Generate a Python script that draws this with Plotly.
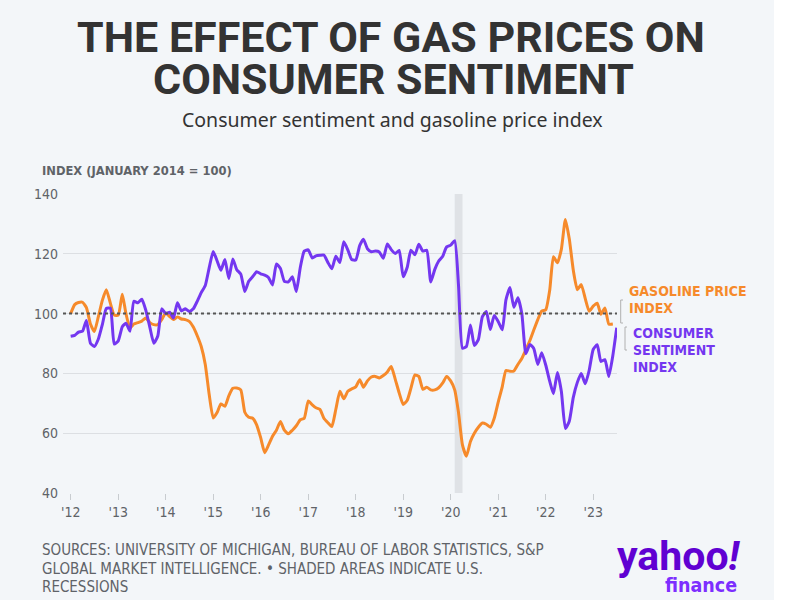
import plotly.graph_objects as go
import pandas as pd

# ---------------- data ----------------
sentiment_start = "2012-01-01"
sentiment = [
    92.4, 92.7, 93.8, 94.1, 97.7, 90.1, 89.0, 91.5, 96.4, 101.7, 101.8, 89.8,
    90.9, 95.6, 96.8, 94.1, 104.1, 103.6, 104.8, 101.1, 95.4, 90.1, 92.5, 101.6,
    100.0, 100.5, 98.5, 103.6, 100.9, 101.6, 100.7, 101.6, 104.2, 107.0, 109.4, 115.3,
    120.8, 117.5, 114.5, 118.1, 111.7, 118.3, 114.7, 113.2, 107.4, 110.8, 112.4, 114.0,
    113.3, 112.9, 112.1, 109.6, 116.6, 115.1, 110.8, 110.6, 112.3, 107.4, 115.5, 120.9,
    121.3, 118.6, 119.3, 119.5, 119.6, 117.1, 115.0, 119.2, 117.1, 124.0, 121.3, 118.1,
    117.9, 122.8, 124.9, 121.7, 120.7, 120.9, 120.6, 118.5, 123.3, 121.4, 120.1, 121.1,
    112.3, 115.5, 121.2, 119.7, 123.2, 120.9, 121.2, 110.6, 114.8, 117.6, 119.2, 122.3,
    122.9, 124.4, 109.7, 88.4, 89.0, 96.2, 89.3, 91.3, 99.0, 100.7, 94.7, 99.4,
    97.3, 94.6, 104.6, 108.7, 102.1, 105.3, 100.0, 86.6, 89.7, 88.3, 83.0, 86.9,
    82.8, 77.3, 73.2, 80.3, 74.0, 61.6, 64.0, 72.0, 77.0, 80.0, 76.5, 81.0,
    88.0, 89.6, 84.0, 84.6, 79.0, 86.0, 95.3,
]
gas_start = "2012-01-01"
gasoline = [
    100.0, 103.0, 103.7, 103.8, 102.0, 96.5, 94.0, 99.0, 104.5, 108.0, 103.5, 99.5,
    99.5, 106.5, 100.0, 95.2, 96.5, 97.0, 97.5, 98.5, 97.0, 96.3, 96.3, 98.0,
    100.2, 99.0, 98.0, 98.9, 98.2, 98.0, 97.4, 95.5, 92.5, 89.0, 83.0, 73.0,
    65.1, 67.0, 69.8, 69.0, 72.5, 75.0, 75.1, 74.5, 67.0, 65.3, 65.0, 62.8,
    58.5, 53.5, 56.0, 59.0, 61.0, 63.9, 61.0, 59.8, 61.0, 62.5, 64.5, 65.0,
    70.8, 69.5, 68.5, 68.0, 65.0, 63.5, 62.2, 68.0, 74.0, 71.5, 74.0, 74.8,
    75.5, 77.9, 75.4, 77.5, 78.8, 79.0, 78.5, 79.3, 80.5, 82.3, 78.0, 73.5,
    69.6, 71.0, 75.0, 79.5, 79.0, 74.7, 75.4, 74.5, 74.5, 75.2, 76.8, 79.0,
    77.5, 74.5, 67.0, 56.0, 52.3, 57.2, 60.0, 62.0, 63.4, 63.0, 62.0, 65.0,
    70.5, 75.6, 81.0, 80.7, 80.8, 83.0, 85.0, 87.9, 91.0, 94.5, 98.0, 100.8,
    101.3, 108.0, 119.0, 117.0, 121.5, 131.5, 125.0, 114.5, 108.0, 109.7, 105.0, 100.8,
    102.5, 103.5, 99.8, 101.9, 96.5, 96.5,
]
year_ticks = [f"{y}-01-01" for y in range(2012, 2024)]
year_labels = [f"'{str(y)[2:]}" for y in range(2012, 2024)]
recession = ("2020-02-01", "2020-04-01")
y_ticks = [40, 60, 80, 100, 120, 140]

source_lines = [
    "SOURCES: UNIVERSITY OF MICHIGAN, BUREAU OF LABOR STATISTICS, S&P",
    "GLOBAL MARKET INTELLIGENCE. • SHADED AREAS INDICATE U.S.",
    "RECESSIONS",
]

sent_dates = pd.date_range(sentiment_start, periods=len(sentiment), freq="MS")
gas_dates = pd.date_range(gas_start, periods=len(gasoline), freq="MS")

# ---------------- layout geometry ----------------
W, H = 800, 600
L, R, T, B = 63, 183, 194, 107
PW, PH = W - L - R, H - T - B


def px(x):
    return (x - L) / PW


def py(y):
    return (H - B - y) / PH


ORANGE = "#F68A2B"
PURPLE = "#7437F0"
GRAY = "#5f6368"
BG = "#f3f6f9"
COND = "DejaVu Sans Condensed, Liberation Sans Narrow, sans-serif"

fig = go.Figure()
fig.add_trace(go.Scatter(
    x=gas_dates, y=gasoline, mode="lines", name="Gasoline price index",
    line=dict(color=ORANGE, width=3, shape="spline", smoothing=0.5),
    hoverinfo="x+y",
))
fig.add_trace(go.Scatter(
    x=sent_dates, y=sentiment, mode="lines", name="Consumer sentiment index",
    line=dict(color=PURPLE, width=3, shape="spline", smoothing=0.5),
    hoverinfo="x+y",
))

shapes = [
    dict(type="rect", xref="paper", yref="paper", x0=px(774), x1=px(805),
         y0=py(605), y1=py(-5), fillcolor="white", line_width=0, layer="below"),
    dict(type="rect", xref="x", yref="y", x0=recession[0], x1=recession[1],
         y0=40, y1=140, fillcolor="#dfe2e6", line_width=0, layer="below"),
    dict(type="line", xref="paper", yref="y", x0=0, x1=1, y0=100, y1=100,
         line=dict(color="#555555", width=2, dash="dot"), layer="above"),
    dict(type="path", xref="paper", yref="paper",
         path=f"M {px(623)},{py(300)} L {px(620.7)},{py(300)} L {px(620.7)},{py(323)} L {px(623)},{py(323)}",
         line=dict(color="#b0b0b0", width=1)),
    dict(type="path", xref="paper", yref="paper",
         path=f"M {px(627)},{py(327)} L {px(625)},{py(327)} L {px(625)},{py(350)} L {px(627)},{py(350)}",
         line=dict(color="#b0b0b0", width=1)),
]

annotations = [
    dict(text="<b>THE EFFECT OF GAS PRICES ON</b>", x=px(391), y=py(37),
         font=dict(family="Roboto", size=43, color="#333333")),
    dict(text="<b>CONSUMER SENTIMENT</b>", x=px(393), y=py(79),
         font=dict(family="Roboto", size=43, color="#333333")),
    dict(text="Consumer sentiment and gasoline price index", x=px(392), y=py(120),
         font=dict(family="Noto Sans", size=19.5, color="#333333")),
    dict(text="<b>INDEX (JANUARY 2014 = 100)</b>", x=px(40), y=py(170), xanchor="left",
         font=dict(family=COND, size=12.8, color=GRAY)),
    dict(text="<b>GASOLINE PRICE</b>", x=px(627), y=py(291), xanchor="left",
         font=dict(family=COND, size=14, color=ORANGE)),
    dict(text="<b>INDEX</b>", x=px(627), y=py(308), xanchor="left",
         font=dict(family=COND, size=14, color=ORANGE)),
    dict(text="<b>CONSUMER</b>", x=px(631), y=py(333), xanchor="left",
         font=dict(family=COND, size=14, color=PURPLE)),
    dict(text="<b>SENTIMENT</b>", x=px(631), y=py(350), xanchor="left",
         font=dict(family=COND, size=14, color=PURPLE)),
    dict(text="<b>INDEX</b>", x=px(631), y=py(367), xanchor="left",
         font=dict(family=COND, size=14, color=PURPLE)),
    dict(text="<b>yahoo<i>!</i></b>", x=px(679), y=py(556),
         font=dict(family="Roboto", size=41, color="#6001D2")),
    dict(text="<b>finance</b>", x=px(701), y=py(585),
         font=dict(family=COND, size=19.5, color="#7D2EFF")),
]
for i, line in enumerate(source_lines):
    annotations.append(dict(text=line, x=px(40), y=py(550 + 18.5 * i), xanchor="left",
                            font=dict(family=COND, size=15, color=GRAY)))
for a in annotations:
    a.setdefault("xref", "paper")
    a.setdefault("yref", "paper")
    a.setdefault("showarrow", False)
    a.setdefault("yanchor", "middle")
    a.setdefault("xanchor", "center")

fig.update_layout(
    width=W, height=H,
    margin=dict(l=L, r=R, t=T, b=B, autoexpand=False),
    paper_bgcolor=BG, plot_bgcolor=BG,
    showlegend=False,
    shapes=shapes,
    annotations=annotations,
    xaxis=dict(
        type="date", range=["2011-11-03", "2023-07-03"],
        tickvals=year_ticks, ticktext=year_labels,
        showgrid=False, zeroline=False,
        ticks="outside", ticklen=6, tickcolor="#c8ccd0", tickwidth=1,
        tickfont=dict(family=COND, size=14, color=GRAY),
    ),
    yaxis=dict(
        range=[40, 140], tickvals=y_ticks,
        showgrid=True, gridcolor="#dcdfe3", gridwidth=1, zeroline=False,
        ticks="", ticklabelstandoff=4,
        tickfont=dict(family=COND, size=14, color=GRAY),
    ),
)

fig.write_html("out.html", config={"displayModeBar": False},
               post_script="document.body.style.margin='0';")
